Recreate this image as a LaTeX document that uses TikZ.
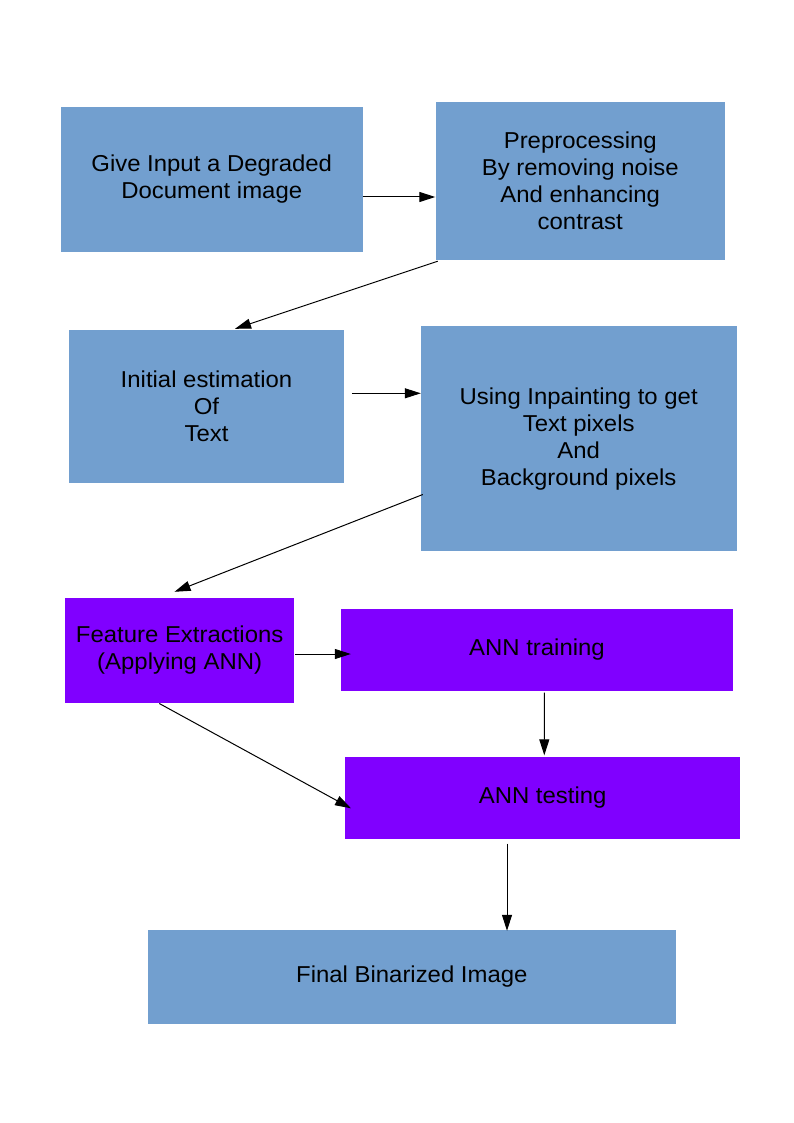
\documentclass[tikz,border=0pt]{standalone}
\usepackage{fontspec}
\setmainfont[FakeStretch=1.04]{Liberation Sans}
\usetikzlibrary{arrows.meta,calc}
\definecolor{boxblue}{HTML}{729FCF}
\definecolor{boxpurple}{HTML}{8000FF}
\begin{document}
\begin{tikzpicture}[x=1pt,y=-1pt,
  box/.style={rectangle, draw=none, align=center, inner sep=0pt,
    font=\fontsize{23}{27}\selectfont, text=black},
  bluebox/.style={box, fill=boxblue},
  purplebox/.style={box, fill=boxpurple},
  arr/.style={line width=1pt, -{Triangle[length=16pt,width=10pt]}}]
\useasboundingbox (0,0) rectangle (794,1123);
\fill[white] (0,0) rectangle (794,1123);
\node[bluebox, minimum width=301.5pt, minimum height=145.3pt] (n1) at (211.75,179.35)
  {Give Input a Degraded\\Document image};
\node[bluebox, minimum width=289.5pt, minimum height=157.5pt] (n2) at (580.25,181.25)
  {Preprocessing\\By removing noise\\And enhancing\\contrast};
\node[bluebox, minimum width=275pt, minimum height=153.8pt] (n3) at (206.5,406.4)
  {Initial estimation\\Of\\Text};
\node[bluebox, minimum width=316pt, minimum height=225.3pt] (n4) at (578.7,438.65)
  {Using Inpainting to get\\Text pixels\\And\\Background pixels};
\node[purplebox, minimum width=229.3pt, minimum height=104.4pt] (n5) at (179.65,650.5)
  {Feature Extractions\\(Applying ANN)};
\node[purplebox, minimum width=392pt, minimum height=81.7pt] (n6) at (537,649.85)
  {ANN training};
\node[purplebox, minimum width=395.3pt, minimum height=82pt] (n7) at (542.65,797.7)
  {ANN testing};
\node[bluebox, minimum width=528.3pt, minimum height=94pt] (n8) at (411.85,977)
  {Final Binarized Image};
\draw[arr] ($(n1.east)+(0,17.65)$) -- ($(n2.west)+(0,15.75)$);
\draw[arr] ($(n2.south west)+(2.5,1)$) -- ($(n3.north)+(28.5,-0.5)$);
\draw[arr] ($(n3.east)+(7.7,-13.1)$) -- ($(n4.west)+(0.3,-45.35)$);
\draw[arr] ($(n4.west)+(2.3,55.85)$) -- ($(n5.north)+(-5.15,-6.3)$);
\draw[arr] ($(n5.east)+(0.7,3.5)$) -- ($(n6.west)+(10,4.15)$);
\draw[arr] ($(n6.south)+(7.3,1.6)$) -- ($(n7.north)+(1.65,-1.2)$);
\draw[arr] ($(n5.south)+(-20.35,0.6)$) -- ($(n7.west)+(6.2,10.6)$);
\draw[arr] ($(n7.south)+(-35.65,4.6)$) -- ($(n8.north)+(95.15,1)$);
\end{tikzpicture}
\end{document}
